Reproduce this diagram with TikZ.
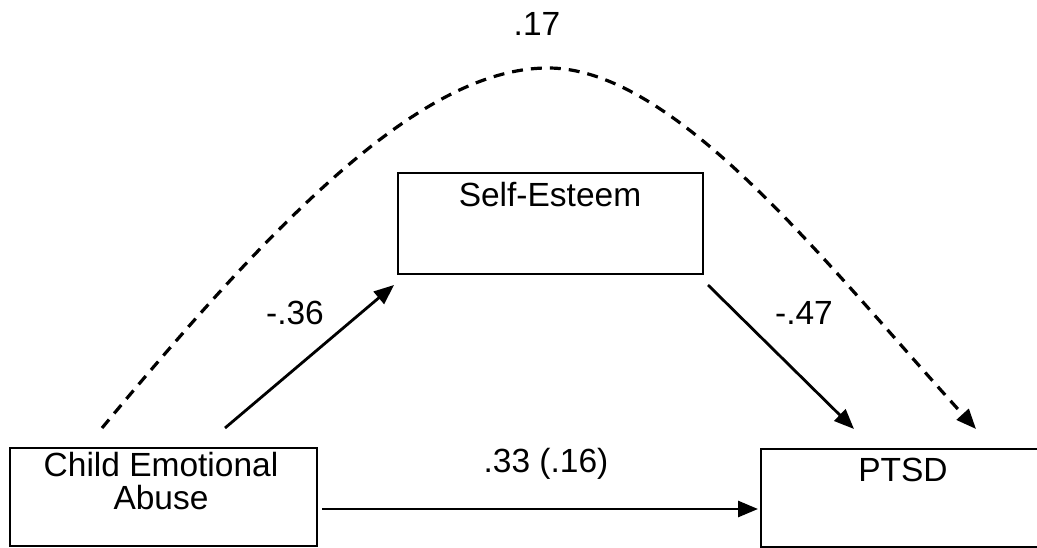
\documentclass[tikz,border=0pt]{standalone}
\usepackage{fontspec}
\setmainfont{Liberation Sans}
\usetikzlibrary{arrows.meta,calc}
\begin{document}
\begin{tikzpicture}[x=1pt,y=-1pt,
  box/.style={draw, line width=2pt, rectangle, inner sep=0pt},
  lbl/.style={inner sep=0pt, font=\fontsize{33.5}{33}\selectfont, align=center},
  arr/.style={line width=2.8pt, -{Triangle[length=20pt,width=16pt]}},
  darr/.style={arr, line width=3.2pt, dash pattern=on 11pt off 8pt}]
\useasboundingbox (0,0) rectangle (1037,548);
\clip (0,0) rectangle (1037,548);
% boxes
\node[box, minimum width=307pt, minimum height=98pt] (cea) at (163.5,497) {};
\node[box, minimum width=305pt, minimum height=101pt] (se) at (550.5,223.5) {};
\node[box, minimum width=284pt, minimum height=98pt] (ptsd) at (903,498) {};
% box texts
\node[lbl] (ceat) at (161,481) {Child Emotional\\Abuse};
\node[lbl] (set) at (550,195) {Self-Esteem};
\node[lbl] (ptsdt) at (903,470) {PTSD};
% connector end points
\coordinate (a1s) at (225,428);
\coordinate (a1e) at (394,285);
\coordinate (a2s) at (708,285);
\coordinate (a2e) at (854,429);
\coordinate (a3s) at (322,509);
\coordinate (a3e) at (758,509);
\coordinate (d1s) at (102,428);
\coordinate (dtop) at (548,68);
\coordinate (d1e) at (976,429);
% connectors
\draw[arr] (a1s) -- (a1e);
\draw[arr] (a2s) -- (a2e);
\draw[arr] (a3s) -- (a3e);
\draw[darr] (d1s) .. controls (272,224) and (420,68) .. (dtop)
  .. controls (676,68) and (826,264) .. (d1e);
% coefficient labels
\node[lbl] (l17) at (537,24) {.17};
\node[lbl] (l36) at (295,313) {-.36};
\node[lbl] (l47) at (804,313) {-.47};
\node[lbl] (l33) at (546,464) {.33 (.16)};
\end{tikzpicture}
\end{document}
